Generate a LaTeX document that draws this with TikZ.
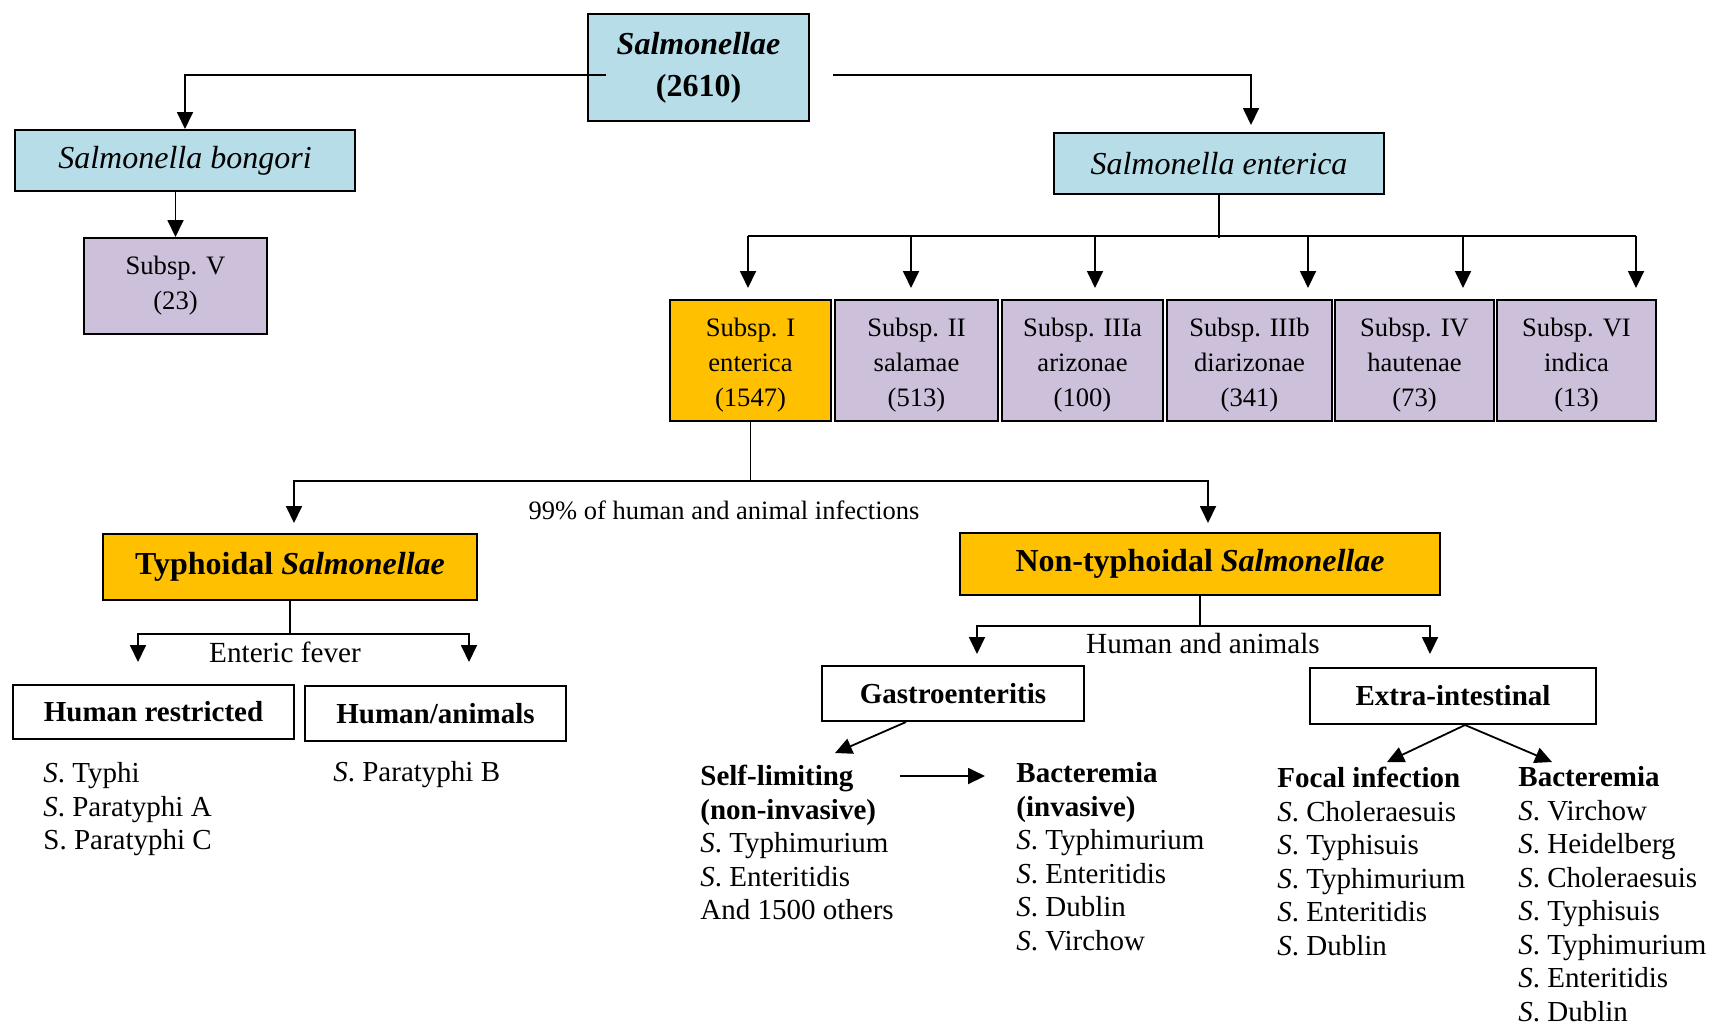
\documentclass[tikz,border=0pt]{standalone}
\usepackage{fontspec}
\setmainfont{Liberation Serif}
\usetikzlibrary{arrows.meta,calc}
\definecolor{boxblue}{RGB}{183,221,232}
\definecolor{boxlilac}{RGB}{204,192,218}
\definecolor{boxgold}{RGB}{255,192,0}
\newcommand{\setfs}[2]{\fontsize{#1}{#2}\selectfont}
\newcommand{\Sdot}{\textit{S}.}
\newcommand{\topgap}{\rule{0pt}{14pt}}
\begin{document}
\begin{tikzpicture}[x=0.5pt,y=0.5pt,yscale=-1,xscale=1,
  box/.style={draw, line width=1pt, inner sep=0pt, align=center},
  link/.style={line width=0.9pt},
  arr/.style={link, -{Triangle[length=8.5pt,width=8pt]}},
  list/.style={anchor=north west, inner sep=0pt, align=left, font=\setfs{14.5}{16.75}}]
\useasboundingbox (0,0) rectangle (1712,1024);

%Shape: Rectangle
\draw (698.5,67.5) node (top) [box, fill=boxblue, minimum width=110.5pt, minimum height=53.5pt, font=\setfs{16}{21}\bfseries] {\textit{Salmonellae}\\(2610)};
%Shape: Rectangle
\draw (185,160.5) node (bongori) [box, fill=boxblue, minimum width=170pt, minimum height=30.5pt, font=\setfs{16}{19}\itshape] {Salmonella bongori};
%Shape: Rectangle
\draw (175.5,286) node (subV) [box, fill=boxlilac, minimum width=91.5pt, minimum height=48pt, font=\setfs{13.3}{17.5}] {Subsp. V\\(23)};
%Shape: Rectangle
\draw (1219,163.5) node (enterica) [box, fill=boxblue, minimum width=165pt, minimum height=30.5pt, font=\setfs{16}{19}\itshape] {Salmonella enterica};

%Shape: Rectangle
\draw (750.5,360.5) node (sI) [box, fill=boxgold, minimum width=80.5pt, minimum height=60.5pt, font=\setfs{13.3}{17.5}] {\topgap Subsp. I\\enterica\\(1547)};
%Shape: Rectangle
\draw (916.5,360.5) node (sII) [box, fill=boxlilac, minimum width=81.5pt, minimum height=60.5pt, font=\setfs{13.3}{17.5}] {\topgap Subsp. II\\salamae\\(513)};
%Shape: Rectangle
\draw (1082.5,360.5) node (sIIIa) [box, fill=boxlilac, minimum width=80.5pt, minimum height=60.5pt, font=\setfs{13.3}{17.5}] {\topgap Subsp. IIIa\\arizonae\\(100)};
%Shape: Rectangle
\draw (1249.5,360.5) node (sIIIb) [box, fill=boxlilac, minimum width=82.5pt, minimum height=60.5pt, font=\setfs{13.3}{17.5}] {\topgap Subsp. IIIb\\diarizonae\\(341)};
%Shape: Rectangle
\draw (1414.5,360.5) node (sIV) [box, fill=boxlilac, minimum width=79.5pt, minimum height=60.5pt, font=\setfs{13.3}{17.5}] {\topgap Subsp. IV\\hautenae\\(73)};
%Shape: Rectangle
\draw (1576.5,360.5) node (sVI) [box, fill=boxlilac, minimum width=79.5pt, minimum height=60.5pt, font=\setfs{13.3}{17.5}] {\topgap Subsp. VI\\indica\\(13)};

%Shape: Rectangle
\draw (290,567) node (typh) [box, fill=boxgold, minimum width=187pt, minimum height=33pt, font=\setfs{16}{19}\bfseries] {Typhoidal \textit{Salmonellae}};
%Shape: Rectangle
\draw (1200,564) node (ntyph) [box, fill=boxgold, minimum width=240pt, minimum height=31pt, font=\setfs{16}{19}\bfseries] {Non-typhoidal \textit{Salmonellae}};
%Shape: Rectangle
\draw (153.5,712) node (hr) [box, minimum width=140.5pt, minimum height=27pt, font=\setfs{14.5}{17}\bfseries] {Human restricted};
%Shape: Rectangle
\draw (435.5,713.5) node (ha) [box, minimum width=130.5pt, minimum height=27.5pt, font=\setfs{14.5}{17}\bfseries] {Human/animals};
%Shape: Rectangle
\draw (953,693.5) node (gastro) [box, minimum width=131pt, minimum height=27.5pt, font=\setfs{14.5}{17}\bfseries] {Gastroenteritis};
%Shape: Rectangle
\draw (1453,696) node (extra) [box, minimum width=143pt, minimum height=28pt, font=\setfs{14.5}{17}\bfseries] {Extra-intestinal};

% Text Node
\draw (724,510) node (pct) [font=\setfs{13.25}{16}] {99\% of human and animal infections};
% Text Node
\draw (285,652) node (entfev) [font=\setfs{14.6}{17}] {Enteric fever};
% Text Node
\draw (1203,643) node (humani) [font=\setfs{14.6}{17}] {Human and animals};
% Text Node
\draw (43,762) node (hrlist) [list] {\Sdot{} Typhi\\\Sdot{} Paratyphi A\\S. Paratyphi C};
% Text Node
\draw (333,761) node (halist) [list] {\Sdot{} Paratyphi B};
% Text Node
\draw (700,765) node (selflim) [list] {\textbf{Self-limiting}\\\textbf{(non-invasive)}\\\Sdot{} Typhimurium\\\Sdot{} Enteritidis\\And 1500 others};
% Text Node
\draw (1016,762) node (bacinv) [list] {\textbf{Bacteremia}\\\textbf{(invasive)}\\\Sdot{} Typhimurium\\\Sdot{} Enteritidis\\\Sdot{} Dublin\\\Sdot{} Virchow};
% Text Node
\draw (1277,767) node (focal) [list] {\textbf{Focal infection}\\\Sdot{} Choleraesuis\\\Sdot{} Typhisuis\\\Sdot{} Typhimurium\\\Sdot{} Enteritidis\\\Sdot{} Dublin};
% Text Node
\draw (1518,766) node (bacext) [list] {\textbf{Bacteremia}\\\Sdot{} Virchow\\\Sdot{} Heidelberg\\\Sdot{} Choleraesuis\\\Sdot{} Typhisuis\\\Sdot{} Typhimurium\\\Sdot{} Enteritidis\\\Sdot{} Dublin};

%Straight Lines
\draw [arr] ($(top.west)+(19,7.5)$) -| (bongori.north);
%Straight Lines
\draw [arr] ($(top.east)+(23,7.5)$) -| ($(enterica.north)+(32,-7)$);
%Straight Lines
\draw [arr] (bongori.south -| subV.north) -- (subV.north);

%Straight Lines
\coordinate (ebar) at ($(enterica.south)+(0,43)$);
\draw [link] (enterica.south) -- (ebar);
\draw [link] ($(sI.north)+(-2.5,-63)$) -- ($(sVI.north)+(59.5,-63)$);
\draw [arr] ($(sI.north)+(-2.5,-63)$) -- ($(sI.north)+(-2.5,-11)$);
\draw [arr] ($(sII.north)+(-5.5,-63)$) -- ($(sII.north)+(-5.5,-11)$);
\draw [arr] ($(sIIIa.north)+(12.5,-63)$) -- ($(sIIIa.north)+(12.5,-11)$);
\draw [arr] ($(sIIIb.north)+(58.5,-63)$) -- ($(sIIIb.north)+(58.5,-11)$);
\draw [arr] ($(sIV.north)+(48.5,-63)$) -- ($(sIV.north)+(48.5,-11)$);
\draw [arr] ($(sVI.north)+(59.5,-63)$) -- ($(sVI.north)+(59.5,-11)$);

%Straight Lines
\coordinate (ibar) at ($(sI.south)+(0,59)$);
\draw [arr] (sI.south) -- (ibar) -| ($(typh.north)+(4,-10)$);
\draw [arr] (ibar) -| ($(ntyph.north)+(8,-9)$);

%Straight Lines
\coordinate (tbar) at ($(typh.south)+(0,33)$);
\draw [arr] (typh.south) -- (tbar) -| ($(hr.north)+(-15.5,-22)$);
\draw [arr] (tbar) -| ($(ha.north)+(33.5,-23)$);

%Straight Lines
\coordinate (nbar) at ($(ntyph.south)+(0,30)$);
\draw [arr] (ntyph.south) -- (nbar) -| ($(gastro.north)+(24,-11)$);
\draw [arr] (nbar) -| ($(extra.north)+(-23,-13)$);

%Straight Lines
\draw [arr] ($(gastro.south)+(-47,0)$) -- ($(selflim.north west)+(135,-12)$);
\draw [arr] ($(selflim.north east)+(6,11)$) -- ($(bacinv.north west)+(-31,14)$);
\draw [arr] ($(extra.south)+(12,0)$) -- ($(focal.north west)+(110,-5)$);
\draw [arr] ($(extra.south)+(12,0)$) -- ($(bacext.north west)+(34,-4)$);

\end{tikzpicture}
\end{document}
